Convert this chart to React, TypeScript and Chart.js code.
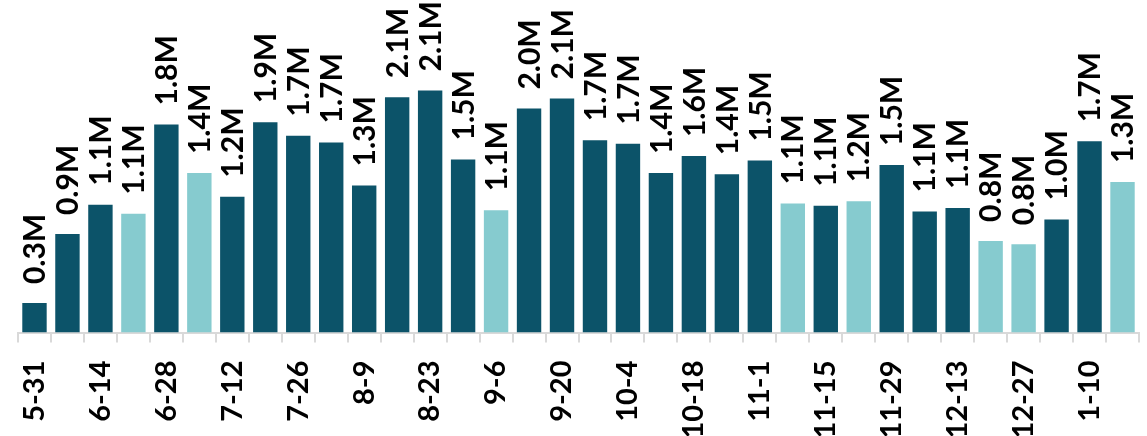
import React, { useEffect, useRef } from "react";
import { Chart, registerables } from "chart.js";

Chart.register(...registerables);

const weeks = [
  "5-31", "6-7", "6-14", "6-21", "6-28", "7-5", "7-12", "7-19", "7-26", "8-2",
  "8-9", "8-16", "8-23", "8-30", "9-6", "9-13", "9-20", "9-27", "10-4", "10-11",
  "10-18", "10-25", "11-1", "11-8", "11-15", "11-22", "11-29", "12-6", "12-13", "12-20",
  "12-27", "1-3", "1-10", "1-17",
];

const volumeM = [
  0.26, 0.87, 1.13, 1.05, 1.84, 1.41, 1.2, 1.86, 1.74, 1.68,
  1.3, 2.08, 2.14, 1.53, 1.08, 1.98, 2.07, 1.7, 1.67, 1.41,
  1.56, 1.4, 1.52, 1.14, 1.12, 1.16, 1.48, 1.07, 1.1, 0.81,
  0.78, 1.0, 1.69, 1.33,
];

const holidayWeek = [
  false, false, false, true, false, true, false, false, false, false,
  false, false, false, false, true, false, false, false, false, false,
  false, false, false, true, false, true, false, false, false, true,
  true, false, false, true,
];

const DARK = "#0c5369";
const LIGHT = "#86cbcf";
const FONT = "Lato, 'Open Sans', sans-serif";

const valueLabels = {
  id: "valueLabels",
  afterDatasetsDraw(chart: any) {
    const ctx = chart.ctx;
    const meta = chart.getDatasetMeta(0);
    ctx.save();
    ctx.font = `bold 30px ${FONT}`;
    ctx.fillStyle = "#000";
    ctx.textAlign = "left";
    ctx.textBaseline = "middle";
    meta.data.forEach((bar: any, i: number) => {
      const v = chart.data.datasets[0].data[i] as number;
      ctx.save();
      ctx.translate(bar.x + 1, bar.y - 19);
      ctx.rotate(-Math.PI / 2);
      ctx.fillText(v.toFixed(1) + "M", 0, 0);
      ctx.restore();
    });
    ctx.restore();
  },
};

export default function App() {
  const ref = useRef<HTMLCanvasElement | null>(null);
  useEffect(() => {
    if (!ref.current) return;
    const chart = new Chart(ref.current, {
      type: "bar",
      data: {
        labels: weeks,
        datasets: [
          {
            data: volumeM,
            backgroundColor: holidayWeek.map((h) => (h ? LIGHT : DARK)),
            barPercentage: 0.74,
            categoryPercentage: 1,
          },
        ],
      },
      options: {
        animation: false,
        responsive: false,
        maintainAspectRatio: false,
        layout: { padding: { left: 18, right: 8, top: 0, bottom: 0 } },
        plugins: { legend: { display: false }, tooltip: { enabled: false } },
        scales: {
          y: { display: false, min: 0, max: 2.94 },
          x: {
            afterFit(scale: any) {
              scale.height = 103.5;
              scale.paddingLeft = 0;
              scale.paddingRight = 0;
            },
            border: { display: true, color: "#d9d9d9", width: 2 },
            grid: {
              display: true,
              offset: true,
              drawOnChartArea: false,
              drawTicks: true,
              tickLength: 10,
              color: "#d9d9d9",
              lineWidth: 2,
            },
            ticks: {
              autoSkip: false,
              maxRotation: 90,
              minRotation: 90,
              padding: 18,
              color: "#000",
              font: { family: FONT, size: 29, weight: "bold" },
              callback: (_v: any, i: number) => (i % 2 === 0 ? weeks[i] : ""),
            },
          },
        },
      },
      plugins: [valueLabels],
    });
    return () => chart.destroy();
  }, []);
  return (
    <div style={{ position: "fixed", left: 0, top: 0, width: 1147, height: 436, background: "#fff" }}>
      <canvas ref={ref} width={1147} height={436} style={{ width: 1147, height: 436, display: "block" }} />
    </div>
  );
}
